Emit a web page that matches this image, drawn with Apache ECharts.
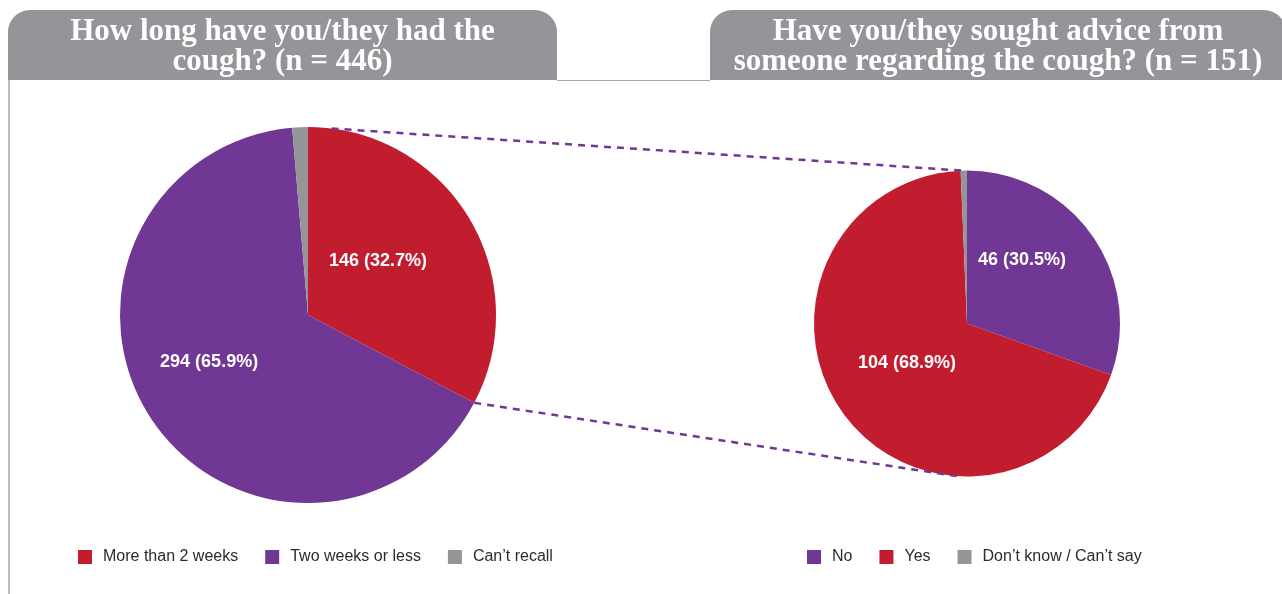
<!DOCTYPE html>
<html>
<head>
<meta charset="utf-8">
<style>
  html, body { margin: 0; padding: 0; background: #ffffff; }
  #chart { width: 1282px; height: 594px; }
</style>
<script src="https://cdn.jsdelivr.net/npm/echarts@6/dist/echarts.min.js"></script>
</head>
<body>
<div id="chart"></div>
<script>
// Panel titles
const leftTitle = ['How long have you/they had the', 'cough? (n = 446)'];
const rightTitle = ['Have you/they sought advice from', 'someone regarding the cough? (n = 151)'];

// Cough duration (n = 446)
const durationCategories = ['More than 2 weeks', 'Two weeks or less', 'Can\u2019t recall'];
const durationCounts = [146, 294, 6];
const durationPercents = ['32.7%', '65.9%', ''];

// Sought advice, among those coughing more than 2 weeks (n = 151)
const adviceCategories = ['No', 'Yes', 'Don\u2019t know / Can\u2019t say'];
const adviceCounts = [46, 104, 1];
const advicePercents = ['30.5%', '68.9%', ''];

const RED = '#c21d2e';
const PURPLE = '#703795';
const GREY = '#939598';

const leftPie = { cx: 308, cy: 315, r: 188 };
const rightPie = { cx: 967, cy: 323.5, r: 153 };

function buildData(cats, counts, pcts, colors, offsets) {
  return cats.map((c, i) => ({
    name: c,
    value: counts[i],
    itemStyle: { color: colors[i] },
    label: {
      show: pcts[i] !== '',
      formatter: counts[i] + ' (' + pcts[i] + ')',
      offset: offsets[i]
    }
  }));
}

// Point on a pie rim at a cumulative fraction, measured clockwise from 12 o'clock
function rimPoint(p, frac) {
  const a = frac * Math.PI * 2;
  return [p.cx + p.r * Math.sin(a), p.cy - p.r * Math.cos(a)];
}
const total = arr => arr.reduce((s, v) => s + v, 0);

// The "More than 2 weeks" slice feeds the second pie
const leftSliceEnd = durationCounts[0] / total(durationCounts);
const topLeft = rimPoint(leftPie, 0.02);
const botLeft = rimPoint(leftPie, leftSliceEnd);
const topRight = rimPoint(rightPie, 0.995);
const botRight = rimPoint(rightPie, 0.51);

const chart = echarts.init(document.getElementById('chart'), null, { renderer: 'canvas' });

const labelStyle = {
  position: 'inside',
  color: '#ffffff',
  fontFamily: 'Liberation Sans, Arial, sans-serif',
  fontWeight: 'bold',
  fontSize: 18
};

const legendCommon = {
  orient: 'horizontal',
  icon: 'rect',
  itemWidth: 14,
  itemHeight: 14,
  itemGap: 27,
  padding: 0,
  selectedMode: false,
  textStyle: {
    fontFamily: 'Liberation Sans, Arial, sans-serif',
    fontSize: 16,
    color: '#2b2b2b',
    padding: [0, 0, 0, 6]
  }
};

function headerTab(x, w, lines) {
  const font = 'bold 31px "Liberation Serif", "DejaVu Serif", serif';
  return [
    {
      type: 'rect',
      shape: { x: x, y: 10, width: w, height: 70, r: [22, 22, 0, 0] },
      style: { fill: GREY }
    },
    {
      type: 'text', x: x + w / 2, y: 32,
      style: { text: lines[0], fill: '#ffffff', align: 'center', verticalAlign: 'middle', font: font }
    },
    {
      type: 'text', x: x + w / 2, y: 62,
      style: { text: lines[1], fill: '#ffffff', align: 'center', verticalAlign: 'middle', font: font }
    }
  ];
}

const dashStyle = { stroke: PURPLE, lineWidth: 2.5, lineDash: [7, 6] };

chart.setOption({
  animation: false,
  backgroundColor: '#ffffff',
  legend: [
    Object.assign({}, legendCommon, { left: 78, top: 549, data: durationCategories }),
    Object.assign({}, legendCommon, { left: 807, top: 549, data: adviceCategories })
  ],
  graphic: [
    // frame lines
    { type: 'line', shape: { x1: 557, y1: 80.5, x2: 710, y2: 80.5 }, style: { stroke: '#a7a9ac', lineWidth: 1 } },
    { type: 'line', shape: { x1: 9, y1: 80, x2: 9, y2: 594 }, style: { stroke: '#a7a9ac', lineWidth: 1.5 } },
    ...headerTab(8, 549, leftTitle),
    ...headerTab(710, 576, rightTitle),
    // connectors between the pies
    { type: 'line', z: 10, shape: { x1: topLeft[0], y1: topLeft[1], x2: topRight[0], y2: topRight[1] }, style: dashStyle },
    { type: 'line', z: 10, shape: { x1: botLeft[0], y1: botLeft[1], x2: botRight[0], y2: botRight[1] }, style: dashStyle }
  ],
  series: [
    {
      type: 'pie',
      center: [leftPie.cx, leftPie.cy],
      radius: [0, leftPie.r],
      startAngle: 90,
      clockwise: true,
      avoidLabelOverlap: false,
      label: labelStyle,
      labelLine: { show: false },
      itemStyle: { borderWidth: 0 },
      emphasis: { disabled: true },
      data: buildData(durationCategories, durationCounts, durationPercents,
        [RED, PURPLE, GREY], [[-13, -4], [-18, -7], [0, 0]])
    },
    {
      type: 'pie',
      center: [rightPie.cx, rightPie.cy],
      radius: [0, rightPie.r],
      startAngle: 90,
      clockwise: true,
      avoidLabelOverlap: false,
      label: labelStyle,
      labelLine: { show: false },
      itemStyle: { borderWidth: 0 },
      emphasis: { disabled: true },
      data: buildData(adviceCategories, adviceCounts, advicePercents,
        [PURPLE, RED, GREY], [[-10, -18], [4, -8], [0, 0]])
    }
  ]
});
</script>
</body>
</html>
